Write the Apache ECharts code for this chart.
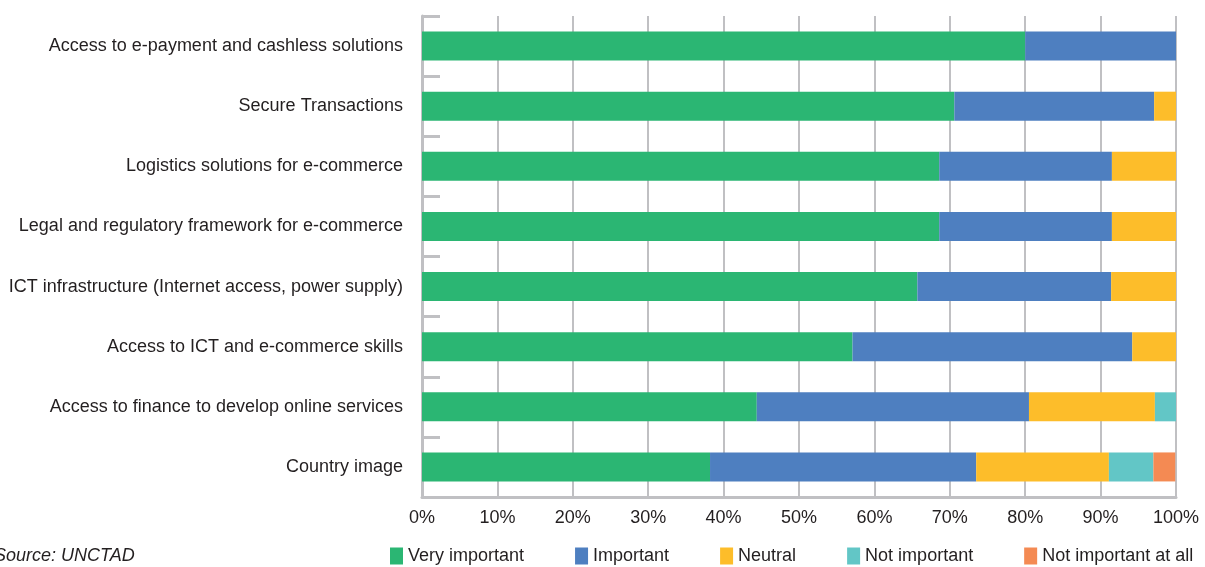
<!DOCTYPE html>
<html>
<head>
<meta charset="utf-8">
<script src="https://cdn.jsdelivr.net/npm/echarts@6/dist/echarts.min.js"></script>
<style>
  html, body { margin: 0; padding: 0; background: #fff; }
  #chart { width: 1205px; height: 567px; }
</style>
</head>
<body>
<div id="chart"></div>
<script>
// categories, top to bottom
var categories = [
  'Access to e-payment and cashless solutions',
  'Secure Transactions',
  'Logistics solutions for e-commerce',
  'Legal and regulatory framework for e-commerce',
  'ICT infrastructure (Internet access, power supply)',
  'Access to ICT and e-commerce skills',
  'Access to finance to develop online services',
  'Country image'
];
var veryImportant = [80.0, 70.6, 68.6, 68.6, 65.7, 57.1, 44.4, 38.2];
var important = [20.0, 26.5, 22.9, 22.9, 25.7, 37.1, 36.1, 35.3];
var neutral = [0, 2.9, 8.5, 8.5, 8.6, 5.8, 16.7, 17.6];
var notImportant = [0, 0, 0, 0, 0, 0, 2.8, 5.9];
var notAtAll = [0, 0, 0, 0, 0, 0, 0, 2.9];
var xTicks = [0, 10, 20, 30, 40, 50, 60, 70, 80, 90, 100];

var font = '"Liberation Sans", Arial, sans-serif';
var gray = '#c0c0c3';

function bar(name, data, color) {
  return {
    name: name,
    type: 'bar',
    stack: 'total',
    data: data,
    barWidth: 29,
    itemStyle: { color: color },
    emphasis: { disabled: true }
  };
}

var myChart = echarts.init(document.getElementById('chart'));
var option = {
  animation: false,
  textStyle: { fontFamily: font },
  grid: { left: 422, right: 29, top: 16, bottom: 70, containLabel: false, outerBoundsMode: 'none' },
  xAxis: {
    type: 'value',
    min: xTicks[0],
    max: xTicks[xTicks.length - 1],
    interval: 10,
    axisLine: { show: true, lineStyle: { color: gray, width: 3 } },
    axisTick: { show: false },
    splitLine: { show: true, lineStyle: { color: gray, width: 2 } },
    axisLabel: {
      formatter: '{value}%',
      color: '#231f20',
      fontSize: 18,
      fontFamily: font,
      margin: 12
    }
  },
  yAxis: {
    type: 'category',
    data: categories,
    inverse: true,
    axisLine: { show: true, lineStyle: { color: gray, width: 3 } },
    axisTick: { show: true, inside: true, length: 18, lineStyle: { color: gray, width: 3 } },
    axisLabel: { color: '#231f20', fontSize: 18, fontFamily: font, margin: 19 }
  },
  legend: {
    left: 390,
    top: 547,
    padding: 0,
    itemWidth: 13,
    itemHeight: 17,
    itemGap: 51,
    icon: 'rect',
    textStyle: { color: '#231f20', fontSize: 18, fontFamily: font },
    data: ['Very important', 'Important', 'Neutral', 'Not important', 'Not important at all']
  },
  graphic: [{
    type: 'text',
    left: -6,
    top: 547,
    style: {
      text: 'Source: UNCTAD',
      fill: '#231f20',
      font: 'italic 18px ' + font
    }
  }],
  series: [
    bar('Very important', veryImportant, '#2bb673'),
    bar('Important', important, '#4e7fc0'),
    bar('Neutral', neutral, '#fdbd2a'),
    bar('Not important', notImportant, '#62c6c6'),
    bar('Not important at all', notAtAll, '#f48a53')
  ]
};
myChart.setOption(option);
</script>
</body>
</html>
